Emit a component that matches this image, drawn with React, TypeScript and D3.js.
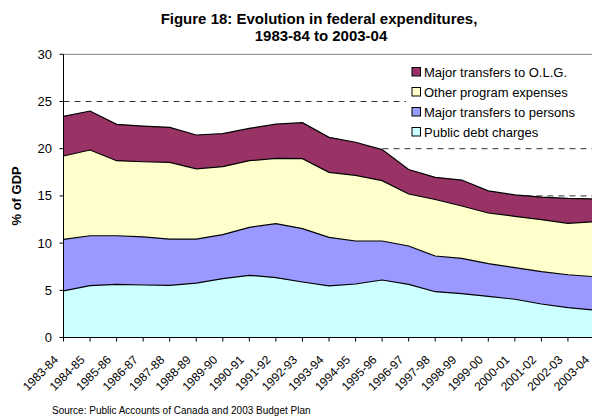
import React, { useEffect, useRef } from 'react';
import * as d3 from 'd3';

const years = [
  '1983-84', '1984-85', '1985-86', '1986-87', '1987-88', '1988-89', '1989-90',
  '1990-91', '1991-92', '1992-93', '1993-94', '1994-95', '1995-96', '1996-97',
  '1997-98', '1998-99', '1999-00', '2000-01', '2001-02', '2002-03', '2003-04',
];

const debtCharges = [4.93, 5.49, 5.63, 5.56, 5.53, 5.77, 6.23, 6.59, 6.34, 5.88, 5.46, 5.67, 6.09, 5.63, 4.85, 4.64, 4.36, 4.05, 3.55, 3.16, 2.91];
const transfersPersons = [5.47, 5.29, 5.15, 5.09, 4.9, 4.66, 4.66, 5.08, 5.72, 5.65, 5.15, 4.55, 4.13, 4.06, 3.78, 3.75, 3.46, 3.35, 3.42, 3.49, 3.53];
const otherProgram = [8.83, 9.08, 7.95, 7.97, 8.12, 7.44, 7.21, 7.06, 6.92, 7.41, 6.89, 6.96, 6.4, 5.51, 5.99, 5.54, 5.37, 5.44, 5.51, 5.45, 5.83];
const transfersOLG = [4.2, 4.13, 3.85, 3.78, 3.71, 3.58, 3.49, 3.43, 3.62, 3.82, 3.7, 3.5, 3.28, 2.6, 2.35, 2.75, 2.34, 2.26, 2.4, 2.64, 2.4];

const seriesNames = ['Public debt charges', 'Major transfers to persons', 'Other program expenses', 'Major transfers to O.L.G.'];
const seriesColors = ['#ccffff', '#9999ff', '#ffffcc', '#993366'];
const yTicks = [0, 5, 10, 15, 20, 25, 30];

type Row = { year: string; s0: number; s1: number; s2: number; s3: number };

const App: React.FC = () => {
  const svgRef = useRef<SVGSVGElement>(null);

  useEffect(() => {
    if (!svgRef.current) return;
    const width = 592;
    const height = 417;
    const margin = { top: 54.3, left: 63.5 };
    const plotBottom = 337.5;
    const step = 26.55;

    const svg = d3.select(svgRef.current);
    svg.selectAll('*').remove();
    svg.attr('width', width).attr('height', height).style('font-family', 'Arial, "Liberation Sans", sans-serif');

    const rows: Row[] = years.map((year, i) => ({
      year,
      s0: debtCharges[i],
      s1: transfersPersons[i],
      s2: otherProgram[i],
      s3: transfersOLG[i],
    }));

    const x = d3
      .scalePoint<string>()
      .domain(years)
      .range([margin.left, margin.left + step * (years.length - 1)]);

    const y = d3.scaleLinear().domain([0, 30]).range([plotBottom, margin.top]);

    // Title
    const title = svg.append('text').attr('text-anchor', 'middle').attr('font-weight', 'bold').attr('font-size', 15);
    title.append('tspan').attr('x', 319).attr('y', 24).text('Figure 18: Evolution in federal expenditures,');
    title.append('tspan').attr('x', 321).attr('y', 41).text('1983-84 to 2003-04');

    // Gridlines
    svg.append('g')
      .selectAll('line')
      .data(yTicks.filter(t => t > 0 && t < 30))
      .enter()
      .append('line')
      .attr('x1', margin.left)
      .attr('x2', width + 10)
      .attr('y1', d => y(d))
      .attr('y2', d => y(d))
      .attr('stroke', '#333')
      .attr('stroke-width', 1)
      .attr('stroke-dasharray', '6,5');

    svg.append('line')
      .attr('x1', margin.left)
      .attr('x2', width + 10)
      .attr('y1', y(30))
      .attr('y2', y(30))
      .attr('stroke', '#808080')
      .attr('stroke-width', 1);

    // Stacked areas
    const stack = d3.stack<Row>().keys(['s0', 's1', 's2', 's3']);
    const layers = stack(rows);

    const area = d3
      .area<d3.SeriesPoint<Row>>()
      .x(d => x(d.data.year) || 0)
      .y0(d => y(d[0]))
      .y1(d => y(d[1]));

    const topLine = d3
      .line<d3.SeriesPoint<Row>>()
      .x(d => x(d.data.year) || 0)
      .y(d => y(d[1]));

    svg.append('g')
      .selectAll('path')
      .data(layers)
      .enter()
      .append('path')
      .attr('fill', (_d, i) => seriesColors[i])
      .attr('d', area);

    svg.append('g')
      .selectAll('path')
      .data(layers)
      .enter()
      .append('path')
      .attr('fill', 'none')
      .attr('stroke', '#000')
      .attr('stroke-width', 1.2)
      .attr('d', topLine);

    // Axes
    const yAxis = svg.append('g');
    yAxis.append('line')
      .attr('x1', margin.left).attr('x2', margin.left)
      .attr('y1', y(30)).attr('y2', plotBottom)
      .attr('stroke', '#000');
    yAxis.selectAll('.yt')
      .data(yTicks)
      .enter()
      .append('line')
      .attr('x1', margin.left - 4).attr('x2', margin.left)
      .attr('y1', d => y(d)).attr('y2', d => y(d))
      .attr('stroke', '#000');
    yAxis.selectAll('.yl')
      .data(yTicks)
      .enter()
      .append('text')
      .attr('x', 52)
      .attr('y', d => y(d) + 4.5)
      .attr('text-anchor', 'end')
      .attr('font-size', 13)
      .text(d => d);

    const xAxis = svg.append('g');
    xAxis.append('line')
      .attr('x1', margin.left).attr('x2', width + 10)
      .attr('y1', plotBottom).attr('y2', plotBottom)
      .attr('stroke', '#000');
    xAxis.selectAll('.xt')
      .data(years)
      .enter()
      .append('line')
      .attr('x1', d => x(d) || 0).attr('x2', d => x(d) || 0)
      .attr('y1', plotBottom).attr('y2', plotBottom + 4)
      .attr('stroke', '#000');
    xAxis.selectAll('.xl')
      .data(years)
      .enter()
      .append('text')
      .attr('transform', d => `translate(${(x(d) || 0) - 7.5},${plotBottom + 20}) rotate(-45)`)
      .attr('text-anchor', 'end')
      .attr('dy', '0.35em')
      .attr('font-size', 12)
      .text(d => d);

    svg.append('text')
      .attr('transform', `translate(21,${(y(30) + plotBottom) / 2}) rotate(-90)`)
      .attr('text-anchor', 'middle')
      .attr('font-weight', 'bold')
      .attr('font-size', 13)
      .text('% of GDP');

    // Legend
    const legend = svg.append('g');
    legend.append('rect')
      .attr('x', 406).attr('y', 58)
      .attr('width', 200).attr('height', 86)
      .attr('fill', '#fff');
    const order = [3, 2, 1, 0];
    order.forEach((si, row) => {
      const cy = 72 + row * 20;
      legend.append('rect')
        .attr('x', 412).attr('y', cy - 4.5)
        .attr('width', 8.5).attr('height', 8.5)
        .attr('fill', seriesColors[si])
        .attr('stroke', '#000')
        .attr('stroke-width', 1);
      legend.append('text')
        .attr('x', 424).attr('y', cy + 4.5)
        .attr('font-size', 13)
        .text(seriesNames[si]);
    });

    svg.append('text')
      .attr('x', 52).attr('y', 414)
      .attr('font-size', 10)
      .text('Source: Public Accounts of Canada and 2003 Budget Plan');
  }, []);

  return <svg ref={svgRef} style={{ position: 'absolute', left: 0, top: 0 }}></svg>;
};

export default App;
